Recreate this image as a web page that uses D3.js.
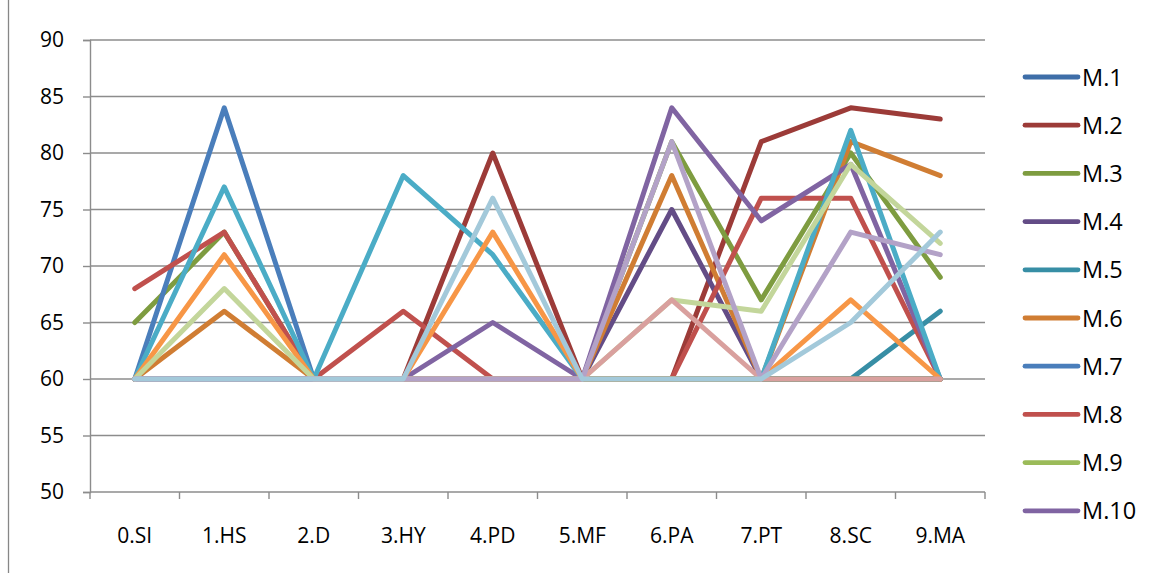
<!DOCTYPE html>
<html>
<head>
<meta charset="utf-8">
<script src="https://cdn.jsdelivr.net/npm/d3@7/dist/d3.min.js"></script>
<style>
  html, body { margin: 0; padding: 0; background: #fff; }
  svg { display: block; }
  text { font-family: "Open Sans", "Noto Sans", "Liberation Sans", sans-serif; fill: #000; }
</style>
</head>
<body>
<svg id="chart" width="1158" height="573"></svg>
<script>
// Scale categories
const categories = ["0.SI", "1.HS", "2.D", "3.HY", "4.PD", "5.MF", "6.PA", "7.PT", "8.SC", "9.MA"];

// Y axis ticks
const yTicks = [50, 55, 60, 65, 70, 75, 80, 85, 90];

// Series names (only the first ten fit in the legend)
const seriesNames = ["M.1", "M.2", "M.3", "M.4", "M.5", "M.6", "M.7", "M.8", "M.9", "M.10",
                     "M.11", "M.12", "M.13", "M.14", "M.15", "M.16"];

// Series values, one per category
const m1  = [60, 60, 60, 60, 60, 60, 60, 60, 60, 60];
const m2  = [60, 60, 60, 60, 80, 60, 60, 81, 84, 83];
const m3  = [65, 73, 60, 60, 60, 60, 81, 67, 80, 69];
const m4  = [60, 60, 60, 60, 60, 60, 75, 60, 60, 60];
const m5  = [60, 60, 60, 60, 60, 60, 60, 60, 60, 66];
const m6  = [60, 66, 60, 60, 60, 60, 78, 60, 81, 78];
const m7  = [60, 84, 60, 60, 60, 60, 60, 60, 60, 60];
const m8  = [68, 73, 60, 66, 60, 60, 60, 76, 76, 60];
const m9  = [60, 60, 60, 60, 60, 60, 60, 60, 60, 60];
const m10 = [60, 60, 60, 60, 65, 60, 84, 74, 79, 60];
const m11 = [60, 77, 60, 78, 71, 60, 60, 60, 82, 60];
const m12 = [60, 71, 60, 60, 73, 60, 60, 60, 67, 60];
const m13 = [60, 68, 60, 60, 60, 60, 67, 66, 79, 72];
const m14 = [60, 60, 60, 60, 60, 60, 67, 60, 60, 60];
const m15 = [60, 60, 60, 60, 60, 60, 81, 60, 73, 71];
const m16 = [60, 60, 60, 60, 76, 60, 60, 60, 65, 73];

const seriesValues = [m1, m2, m3, m4, m5, m6, m7, m8, m9, m10, m11, m12, m13, m14, m15, m16];

// Line colours
const seriesColors = ["#3E6EA8", "#9C3B38", "#7E9C40", "#634C86", "#378EA5", "#D07D33",
                      "#4A7EBB", "#C0504D", "#9BBB59", "#8064A2",
                      "#4BACC6", "#F79646", "#C3D69B", "#D9A09E", "#B3A2C7", "#A3C9DA"];

const svg = d3.select("#chart");
const W = 1158, H = 573;
const plot = { left: 90, right: 985, top: 40, bottom: 492 };

// Left edge of the chart frame
svg.append("line")
  .attr("x1", 8.5).attr("x2", 8.5).attr("y1", 0).attr("y2", H)
  .attr("stroke", "#878787").attr("stroke-width", 1.3);

const x = d3.scalePoint().domain(categories).range([plot.left, plot.right]).padding(0.5);
const xBand = d3.scaleBand().domain(categories).range([plot.left, plot.right]);
const y = d3.scaleLinear().domain([50, 90]).range([plot.bottom, plot.top]);

// Horizontal gridlines
svg.append("g").selectAll("line")
  .data(yTicks.filter(t => t > 50))
  .join("line")
  .attr("x1", plot.left).attr("x2", plot.right)
  .attr("y1", d => y(d)).attr("y2", d => y(d))
  .attr("stroke", "#8c8c8c").attr("stroke-width", 1.4);

// Y axis
const yAxis = svg.append("g")
  .attr("transform", `translate(${plot.left},0)`)
  .call(d3.axisLeft(y).tickValues(yTicks).tickSize(7).tickPadding(19));
yAxis.select(".domain").attr("stroke", "#8c8c8c").attr("stroke-width", 1.4);
yAxis.selectAll(".tick line").attr("stroke", "#8c8c8c").attr("stroke-width", 1.4);
yAxis.selectAll(".tick text")
  .attr("font-size", 21)
  .style("font-family", "'Open Sans', 'Noto Sans', sans-serif");

// X axis with ticks on band boundaries
const xAxisG = svg.append("g").attr("transform", `translate(0,${plot.bottom})`);
xAxisG.append("line")
  .attr("x1", plot.left).attr("x2", plot.right)
  .attr("stroke", "#8c8c8c").attr("stroke-width", 1.4);
const boundaries = categories.map(c => xBand(c)).concat([plot.right]);
xAxisG.selectAll(".xt").data(boundaries).join("line")
  .attr("class", "xt")
  .attr("x1", d => d).attr("x2", d => d)
  .attr("y1", 0).attr("y2", 7)
  .attr("stroke", "#8c8c8c").attr("stroke-width", 1.4);
xAxisG.selectAll(".xl").data(categories).join("text")
  .attr("class", "xl")
  .attr("x", d => x(d)).attr("y", 51)
  .attr("text-anchor", "middle")
  .attr("font-size", 21)
  .text(d => d);

// Series lines
const line = d3.line()
  .x((d, i) => x(categories[i]))
  .y(d => y(d));

svg.append("g").selectAll("path")
  .data(seriesValues)
  .join("path")
  .attr("d", d => line(d))
  .attr("fill", "none")
  .attr("stroke", (d, i) => seriesColors[i])
  .attr("stroke-width", 5)
  .attr("stroke-linejoin", "round")
  .attr("stroke-linecap", "round");

// Legend
const legend = svg.append("g");
const legendItems = legend.selectAll("g")
  .data(seriesNames.slice(0, 10))
  .join("g")
  .attr("transform", (d, i) => `translate(1025,${77 + i * 48.2})`);
legendItems.append("line")
  .attr("x1", 0).attr("x2", 53)
  .attr("stroke", (d, i) => seriesColors[i])
  .attr("stroke-width", 4.8)
  .attr("stroke-linecap", "round");
legendItems.append("text")
  .attr("x", 57).attr("y", 8.5)
  .attr("font-size", 23.5)
  .text(d => d);
</script>
</body>
</html>
